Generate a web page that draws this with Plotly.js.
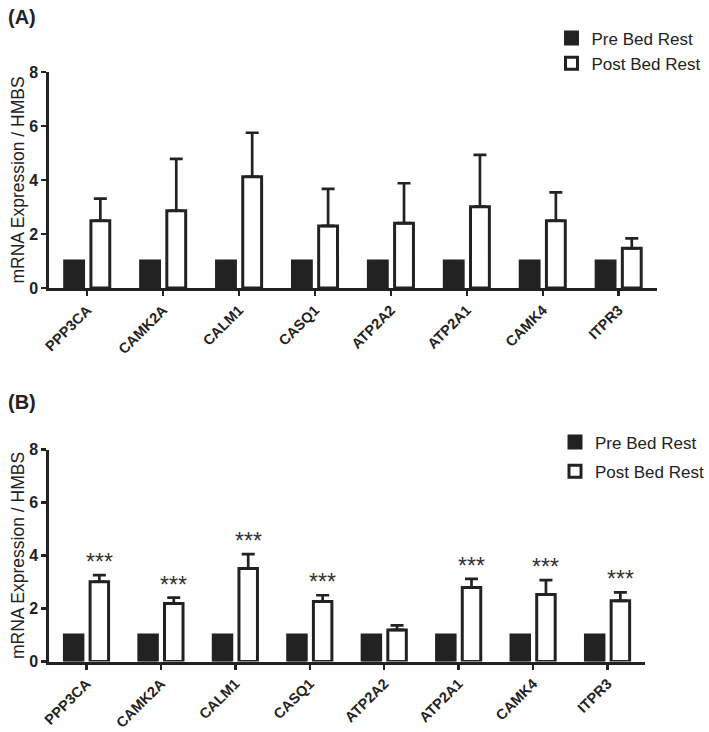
<!DOCTYPE html>
<html>
<head>
<meta charset="utf-8">
<script src="https://cdn.plot.ly/plotly-3.0.1.min.js"></script>
<style>
  html, body { margin: 0; padding: 0; background: #fff; }
  #chart { width: 709px; height: 732px; }
</style>
</head>
<body>
<div id="chart"></div>
<script>
const genes = ["PPP3CA", "CAMK2A", "CALM1", "CASQ1", "ATP2A2", "ATP2A1", "CAMK4", "ITPR3"];

// panel A
const preA = [1, 1, 1, 1, 1, 1, 1, 1];
const postA = [2.49, 2.86, 4.12, 2.30, 2.40, 3.01, 2.49, 1.47];
const errA = [0.82, 1.92, 1.63, 1.37, 1.48, 1.92, 1.05, 0.37];

// panel B
const preB = [1, 1, 1, 1, 1, 1, 1, 1];
const postB = [3.01, 2.19, 3.51, 2.26, 1.19, 2.79, 2.53, 2.29];
const errB = [0.25, 0.22, 0.54, 0.24, 0.17, 0.33, 0.54, 0.32];
const starsB = ["***", "***", "***", "***", "", "***", "***", "***"];

const ink = "#222222";
const font = "Liberation Sans, Arial, Helvetica, sans-serif";
const barGap = 0.31;
const zeros = genes.map(() => 0);

function preTrace(values, xa, ya, legend) {
  return {
    type: "bar",
    x: genes,
    y: values,
    xaxis: xa,
    yaxis: ya,
    name: "Pre Bed Rest",
    legend,
    legendgroup: "pre" + xa,
    marker: { color: ink, line: { color: ink, width: 3 } },
    hoverinfo: "skip",
  };
}

function postTrace(values, errs, xa, ya, legend) {
  return {
    type: "bar",
    x: genes,
    y: values,
    xaxis: xa,
    yaxis: ya,
    name: "Post Bed Rest",
    legend,
    legendgroup: "post" + xa,
    marker: { color: "#ffffff", line: { color: ink, width: 3 } },
    error_y: {
      type: "data",
      symmetric: false,
      array: errs,
      arrayminus: zeros,
      color: ink,
      thickness: 2.7,
      width: 6.5,
    },
    hoverinfo: "skip",
  };
}

function xAxis(domain, anchor) {
  return {
    domain,
    anchor,
    type: "category",
    showline: true,
    linewidth: 3,
    linecolor: ink,
    ticks: "outside",
    ticklen: 5,
    tickwidth: 2.5,
    tickcolor: ink,
    tickangle: -45,
    tickfont: { family: font, size: 14.5, color: ink, weight: "bold" },
    showgrid: false,
    zeroline: false,
    fixedrange: true,
  };
}

function yAxis(domain, anchor) {
  return {
    domain,
    anchor,
    range: [0, 8],
    dtick: 2,
    showline: true,
    linewidth: 3,
    linecolor: ink,
    ticks: "outside",
    ticklen: 5,
    tickwidth: 2.5,
    tickcolor: ink,
    tickfont: { family: font, size: 16, color: ink, weight: "bold" },
    showgrid: false,
    zeroline: false,
    fixedrange: true,
    title: {
      text: "mRNA Expression / HMBS",
      font: { family: font, size: 17.5, color: ink },
      standoff: 1,
    },
  };
}

function legendBox(x, y, gap) {
  return {
    x,
    y,
    xanchor: "left",
    yanchor: "top",
    traceorder: "grouped",
    tracegroupgap: gap,
    font: { family: font, size: 17, color: ink },
    bgcolor: "rgba(0,0,0,0)",
  };
}

const starNotes = starsB.map((s, i) => ({
  xref: "x2",
  yref: "y2",
  x: i + (1 - barGap) / 4,
  y: postB[i] + errB[i],
  text: s,
  showarrow: false,
  yanchor: "bottom",
  yshift: -2,
  font: { family: font, size: 23, color: "#333" },
}));

const data = [
  preTrace(preA, "x", "y", "legend"),
  postTrace(postA, errA, "x", "y", "legend"),
  preTrace(preB, "x2", "y2", "legend2"),
  postTrace(postB, errB, "x2", "y2", "legend2"),
];

const layout = {
  width: 709,
  height: 732,
  margin: { l: 0, r: 0, t: 0, b: 0 },
  paper_bgcolor: "#ffffff",
  plot_bgcolor: "#ffffff",
  barmode: "group",
  bargap: barGap,
  bargroupgap: 0.28,
  font: { family: font, color: ink },
  xaxis: xAxis([0.0705, 0.9394], "y"),
  yaxis: yAxis([0.6066, 0.9016], "x"),
  xaxis2: xAxis([0.0705, 0.9224], "y2"),
  yaxis2: yAxis([0.0963, 0.3859], "x2"),
  legend: legendBox(0.789, 0.972, 0),
  legend2: legendBox(0.794, 0.42, 4),
  annotations: [
    {
      xref: "paper", yref: "paper", x: 0.008, y: 1 - 17 / 732,
      xanchor: "left", yanchor: "middle", showarrow: false,
      text: "<b>(A)</b>", font: { family: font, size: 20, color: ink },
    },
    {
      xref: "paper", yref: "paper", x: 0.008, y: 1 - 402 / 732,
      xanchor: "left", yanchor: "middle", showarrow: false,
      text: "<b>(B)</b>", font: { family: font, size: 20, color: ink },
    },
    ...starNotes,
  ],
};

Plotly.newPlot("chart", data, layout, { displayModeBar: false, staticPlot: true });
</script>
</body>
</html>
